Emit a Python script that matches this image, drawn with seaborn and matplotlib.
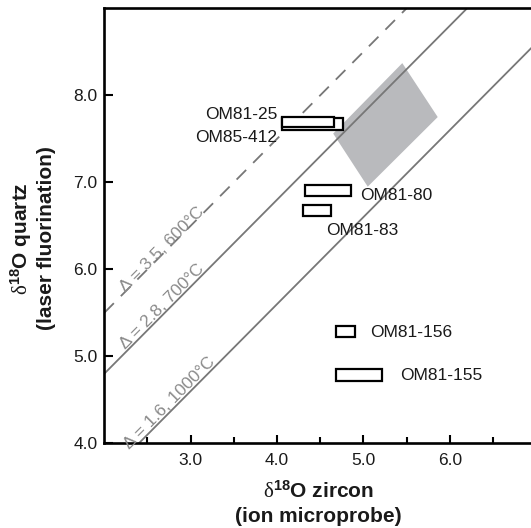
import numpy as np
import pandas as pd
import matplotlib
matplotlib.use("Agg")
import matplotlib.pyplot as plt
from matplotlib.patches import Rectangle, Polygon
import seaborn as sns

# Quartz-zircon fractionation isotherms (Δ = δ18O quartz − δ18O zircon)
delta_values = [3.5, 2.8, 1.6]
delta_labels = ["Δ = 3.5, 600°C", "Δ = 2.8, 700°C", "Δ = 1.6, 1000°C"]
delta_dashed = [True, False, False]

# Sample ranges: zircon (ion microprobe) vs quartz (laser fluorination)
samples = ["OM85-412", "OM81-25", "OM81-80", "OM81-83", "OM81-156", "OM81-155"]
zircon_lo = [4.06, 4.06, 4.32, 4.30, 4.68, 4.68]
zircon_hi = [4.76, 4.66, 4.86, 4.63, 4.90, 5.21]
quartz_lo = [7.60, 7.64, 6.84, 6.61, 5.22, 4.72]
quartz_hi = [7.74, 7.75, 6.97, 6.74, 5.35, 4.85]

# Shaded equilibrium field
field_zircon = [5.45, 5.86, 5.05, 4.65]
field_quartz = [8.37, 7.75, 6.95, 7.56]

x_ticks = [3.0, 4.0, 5.0, 6.0]
x_minor = [2.5, 3.5, 4.5, 5.5, 6.5]
y_ticks = [4.0, 5.0, 6.0, 7.0, 8.0]

sns.set_theme(style="white")
plt.rcParams["font.family"] = ["Liberation Sans", "DejaVu Sans"]
plt.rcParams["mathtext.fontset"] = "custom"
plt.rcParams["mathtext.rm"] = "Liberation Serif"
plt.rcParams["mathtext.it"] = "Liberation Serif:italic"
plt.rcParams["mathtext.bf"] = "Liberation Sans:bold"

W, H = 531, 528
fig = plt.figure(figsize=(W / 100, H / 100), dpi=100)
ax = fig.add_axes([104.3 / W, (H - 443.3) / H, (W - 104.3) / W, (443.3 - 8.3) / H])
ax.set_xlim(2.0, 6.94)
ax.set_ylim(4.0, 9.0)

line_gray = "#777777"
text_gray = "#8a8a8a"

# shaded field
ax.add_patch(Polygon(np.column_stack([field_zircon, field_quartz]), closed=True,
                     facecolor="#b9babd", edgecolor="none", zorder=1))

# isotherm lines
xs = [2.0, 7.0]
rows = []
for d, lab in zip(delta_values, delta_labels):
    for x in xs:
        rows.append({"zircon": x, "quartz": x + d, "iso": lab})
df = pd.DataFrame(rows)
dash_map = {lab: ((7.5, 5.5) if dashed else "") for lab, dashed in zip(delta_labels, delta_dashed)}
sns.lineplot(data=df, x="zircon", y="quartz", hue="iso", style="iso",
             palette=[line_gray] * 3, dashes=dash_map, linewidth=1.3,
             legend=False, sort=False, ax=ax, zorder=2)

# isotherm labels along the lines
label_x = [2.674, 2.674, 2.76]
label_off = [0.06, 0.10, 0.10]
for d, lab, lx, off in zip(delta_values, delta_labels, label_x, label_off):
    ax.text(lx, lx + d + off, lab, rotation=45, transform_rotates_text=True,
            rotation_mode="anchor", ha="center", va="center",
            color=text_gray, fontsize=12.5, zorder=4)

# sample boxes
for s, x0, x1, y0, y1 in zip(samples, zircon_lo, zircon_hi, quartz_lo, quartz_hi):
    ax.add_patch(Rectangle((x0, y0), x1 - x0, y1 - y0, facecolor="white",
                           edgecolor="black", linewidth=1.6, zorder=3))

# sample labels
label_pos = {
    "OM81-25": (4.01, 7.80, "right"),
    "OM85-412": (4.00, 7.53, "right"),
    "OM81-80": (4.96, 6.87, "left"),
    "OM81-83": (4.57, 6.46, "left"),
    "OM81-156": (5.075, 5.29, "left"),
    "OM81-155": (5.43, 4.80, "left"),
}
for s in samples:
    px, py, ha = label_pos[s]
    ax.text(px, py, s, ha=ha, va="center_baseline", fontsize=12.5,
            color="#1a1a1a", zorder=5)

# axes styling
ax.set_xticks(x_ticks)
ax.set_xticklabels([f"{t:.1f}" for t in x_ticks])
ax.set_xticks(x_minor, minor=True)
ax.set_yticks(y_ticks)
ax.set_yticklabels([f"{t:.1f}" for t in y_ticks])
ax.tick_params(axis="x", which="major", direction="in", length=6, width=1.5,
               pad=7, labelsize=12.5, bottom=True, colors="black")
ax.tick_params(axis="x", which="minor", direction="in", length=4, width=1.5,
               bottom=True, color="black")
ax.tick_params(axis="y", which="major", direction="in", length=6.5, width=1.5,
               pad=5, labelsize=12.5, left=True, colors="black")
for tl in ax.get_xticklabels() + ax.get_yticklabels():
    tl.set_color("#1a1a1a")
for side in ["top", "left", "bottom"]:
    ax.spines[side].set_color("black")
    ax.spines[side].set_linewidth(1.9)
ax.spines["right"].set_visible(False)
ax.set_xlabel("")
ax.set_ylabel("")

# axis titles
lab_kw = dict(fontsize=15, fontweight="bold", color="#1a1a1a", ha="center", va="center")
fig.text(318 / W, (H - 491.7) / H, r"$\mathrm{\delta}^{\mathbf{18}}$O zircon", **lab_kw)
fig.text(318 / W, (H - 516.7) / H, "(ion microprobe)", **lab_kw)
fig.text(21.5 / W, (H - 238.3) / H, r"$\mathrm{\delta}^{\mathbf{18}}$O quartz", rotation=90, **lab_kw)
fig.text(47 / W, (H - 238.3) / H, "(laser fluorination)", rotation=90, **lab_kw)

fig.savefig("out.png", dpi=100)
